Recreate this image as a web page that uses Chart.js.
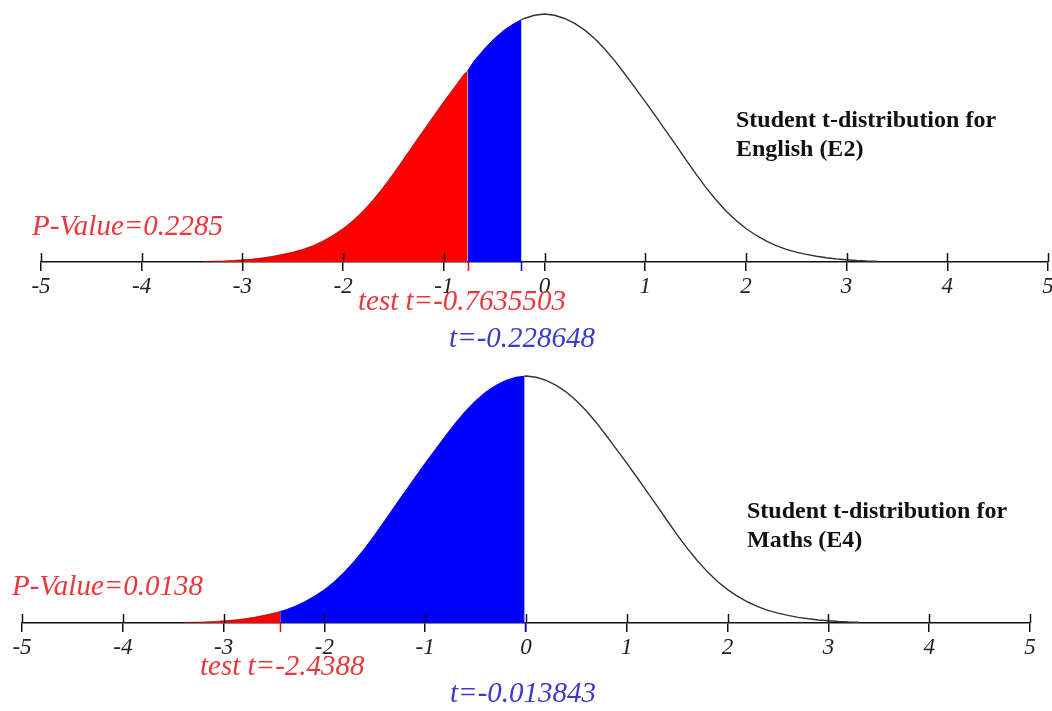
<!DOCTYPE html>
<html>
<head>
<meta charset="utf-8">
<script src="https://cdn.jsdelivr.net/npm/chart.js@4.4.1/dist/chart.umd.min.js"></script>
<style>
  html, body { margin:0; padding:0; background:#fff; width:1052px; height:711px; overflow:hidden; }
  #wrap { position:relative; width:1052px; height:711px; }
  canvas { position:absolute; left:0; }
  .ann { position:absolute; font-family:"Liberation Serif","Times New Roman",serif; font-style:italic; font-size:29px; line-height:1; white-space:nowrap; }
  .red { color:#e8383d; }
  .blue { color:#3b3bc8; }
  .ttl { position:absolute; font-family:"Liberation Serif","Times New Roman",serif; font-weight:bold; font-size:24px; line-height:29px; color:#111; white-space:nowrap; }
</style>
</head>
<body>
<div id="wrap">
  <canvas id="c1" width="1080" height="360" style="top:0;width:1080px;height:360px"></canvas>
  <canvas id="c2" width="1080" height="351" style="top:360px;width:1080px;height:351px"></canvas>

  <div class="ttl" style="left:736px;top:105px">Student t-distribution for<br>English (E2)</div>
  <div class="ann red" style="left:32px;top:211px">P-Value=0.2285</div>
  <div class="ann red" style="left:358px;top:286px">test t=-0.7635503</div>
  <div class="ann blue" style="left:449px;top:323px">t=-0.228648</div>

  <div class="ttl" style="left:747px;top:496px">Student t-distribution for<br>Maths (E4)</div>
  <div class="ann red" style="left:12px;top:571px">P-Value=0.0138</div>
  <div class="ann red" style="left:200px;top:651px">test t=-2.4388</div>
  <div class="ann blue" style="left:450px;top:678px">t=-0.013843</div>
</div>
<script>
// ---- data ----
const axisTicks = [-5, -4, -3, -2, -1, 0, 1, 2, 3, 4, 5];
const tGrid = [-3.4,-3.3,-3.2,-3.1,-3.0,-2.9,-2.8,-2.7,-2.6,-2.5,-2.4,-2.3,-2.2,-2.1,-2.0,-1.9,-1.8,-1.7,-1.6,-1.5,-1.4,-1.3,-1.2,-1.1,-1.0,-0.9,-0.8,-0.7,-0.6,-0.5,-0.4,-0.3,-0.2,-0.1,0.0,0.1,0.2,0.3,0.4,0.5,0.6,0.7,0.8,0.9,1.0,1.1,1.2,1.3,1.4,1.5,1.6,1.7,1.8,1.9,2.0,2.1,2.2,2.3,2.4,2.5,2.6,2.7,2.8,2.9,3.0,3.1,3.2,3.3];
// curve height relative to its peak
const height = [0.002,0.003,0.004,0.006,0.009,0.012,0.017,0.023,0.031,0.040,0.051,0.066,0.085,0.108,0.135,0.168,0.207,0.252,0.302,0.357,0.415,0.474,0.532,0.590,0.647,0.702,0.757,0.810,0.858,0.900,0.935,0.962,0.982,0.995,1.000,0.995,0.982,0.962,0.935,0.900,0.858,0.810,0.757,0.702,0.647,0.590,0.532,0.474,0.415,0.357,0.302,0.252,0.207,0.168,0.135,0.108,0.085,0.066,0.051,0.040,0.031,0.023,0.017,0.012,0.009,0.006,0.004,0.003];

// English (E2)
const englishTestT = -0.7635503;
const englishTestHeight = 0.770;
const englishEdgeT = -0.228648;
const englishEdgeHeight = 0.977;
// Maths (E4)
const mathsTestT = -2.4388;
const mathsTestHeight = 0.047;
const mathsEdgeT = -0.013843;
const mathsEdgeHeight = 0.999;

const RED = '#ff0000', BLUE = '#0000ff';

function pts(lo, hi) {
  const out = [];
  tGrid.forEach((t, i) => { if (t > lo && t < hi) out.push({x: t, y: height[i]}); });
  return out;
}

const axisMarks = {
  id: 'axisMarks',
  afterDraw(chart, args, opts) {
    const {ctx, chartArea} = chart;
    const x = chart.scales.x;
    const y0 = chartArea.bottom;
    ctx.save();
    ctx.lineWidth = 1.5;
    ctx.strokeStyle = '#111';
    axisTicks.forEach(v => {
      const px = Math.round(x.getPixelForValue(v)) + 0.5;
      ctx.beginPath(); ctx.moveTo(px, y0); ctx.lineTo(px, y0 - 9); ctx.stroke();
    });
    (opts.marks || []).forEach(m => {
      const px = Math.round(x.getPixelForValue(m.t)) + 0.5;
      ctx.strokeStyle = m.color;
      ctx.beginPath(); ctx.moveTo(px, y0); ctx.lineTo(px, y0 + 9); ctx.stroke();
    });
    ctx.restore();
  }
};

function makeChart(id, pad, testT, testH, edgeT, edgeH) {
  const redData = [{x: tGrid[0], y: 0}].concat(pts(-99, testT), [{x: testT, y: testH}]);
  const blueData = [{x: testT, y: testH}].concat(pts(testT, edgeT), [{x: edgeT, y: edgeH}]);
  const lineData = [{x: edgeT, y: edgeH}].concat(pts(edgeT, 99));
  return new Chart(document.getElementById(id), {
    type: 'scatter',
    data: {
      datasets: [
        { data: redData, showLine: true, fill: 'origin', backgroundColor: RED, borderColor: 'rgba(90,0,0,0.55)', borderWidth: 1, pointRadius: 0, tension: 0, clip: false },
        { data: blueData, showLine: true, fill: 'origin', backgroundColor: BLUE, borderColor: BLUE, borderWidth: 1, pointRadius: 0, tension: 0, clip: false },
        { data: lineData, showLine: true, fill: false, borderColor: '#333', borderWidth: 1.4, pointRadius: 0, tension: 0, clip: false }
      ]
    },
    options: {
      responsive: false,
      animation: false,
      layout: { padding: pad },
      plugins: {
        legend: { display: false },
        tooltip: { enabled: false },
        axisMarks: { marks: [{t: testT, color: RED}, {t: edgeT, color: BLUE}] }
      },
      scales: {
        x: {
          type: 'linear', min: -5, max: 5,
          afterBuildTicks(s) { s.ticks = axisTicks.map(v => ({value: v})); },
          afterFit(s) { s.height = 40; },
          ticks: { color: '#222', padding: 2, maxRotation: 0, autoSkip: false,
                   font: { family: 'Liberation Serif', style: 'italic', size: 23 } },
          grid: { display: true, drawOnChartArea: false, drawTicks: true, tickLength: 9, color: '#111', lineWidth: 1.5 },
          border: { display: true, color: '#111', width: 1.5 }
        },
        y: { display: false, min: 0, max: 1 }
      }
    },
    plugins: [axisMarks]
  });
}

makeChart('c1', {left: 41, right: 32, top: 14, bottom: 58}, englishTestT, englishTestHeight, englishEdgeT, englishEdgeHeight);
makeChart('c2', {left: 22, right: 50, top: 16, bottom: 48}, mathsTestT, mathsTestHeight, mathsEdgeT, mathsEdgeHeight);
</script>
</body>
</html>
